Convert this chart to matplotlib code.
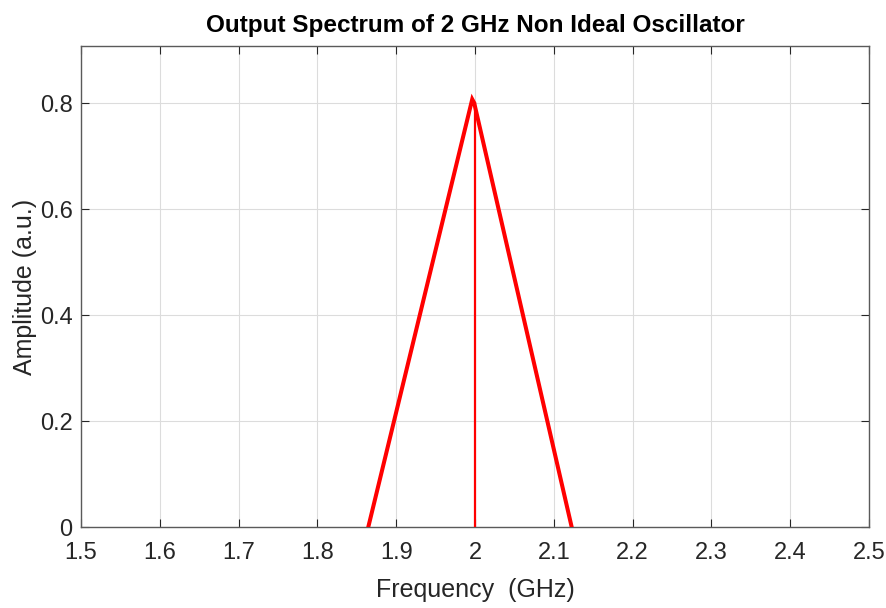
import numpy as np
import matplotlib
matplotlib.use("Agg")
import matplotlib.pyplot as plt

plt.rcParams["font.family"] = ["Liberation Sans", "DejaVu Sans"]

# spectrum trace (GHz, a.u.)
freq_ghz = [1.8646, 1.9965, 1.9990, 2.1227]
amplitude = [0.0, 0.807, 0.800, 0.0]

# carrier line
carrier_f = [2.0, 2.0]
carrier_a = [0.0, 0.80]

xticks = [1.5, 1.6, 1.7, 1.8, 1.9, 2.0, 2.1, 2.2, 2.3, 2.4, 2.5]
xticklabels = ["1.5", "1.6", "1.7", "1.8", "1.9", "2", "2.1", "2.2", "2.3", "2.4", "2.5"]
yticks = [0, 0.2, 0.4, 0.6, 0.8]
yticklabels = ["0", "0.2", "0.4", "0.6", "0.8"]

AX_COL = "#262626"

fig = plt.figure(figsize=(8.87, 6.08), dpi=100)
ax = fig.add_axes([0.0913, 0.1332, 0.8884, 0.7911])

ax.plot(freq_ghz, amplitude, color="red", linewidth=2.9, solid_joinstyle="miter", zorder=3)
ax.plot(carrier_f, carrier_a, color="red", linewidth=1.6, zorder=3)

ax.set_xlim(1.5, 2.5)
ax.set_ylim(0, 0.9075)
ax.set_xticks(xticks)
ax.set_xticklabels(xticklabels)
ax.set_yticks(yticks)
ax.set_yticklabels(yticklabels)

ax.grid(True, color="#dcdcdc", linewidth=0.8)
ax.set_axisbelow(True)
ax.tick_params(direction="in", length=6, width=0.8, top=True, right=True,
               colors=AX_COL, labelsize=17)
ax.tick_params(axis="x", pad=11)
ax.tick_params(axis="y", pad=6)
for tl in ax.get_xticklabels() + ax.get_yticklabels():
    tl.set_color(AX_COL)
for sp in ax.spines.values():
    sp.set_color("#5a5a5a")
    sp.set_linewidth(1.0)

ax.set_xlabel("Frequency  (GHz)", fontsize=18, color=AX_COL, labelpad=10)
ax.set_ylabel("Amplitude (a.u.)", fontsize=18, color=AX_COL, labelpad=2)
ax.set_title("Output Spectrum of 2 GHz Non Ideal Oscillator", fontsize=17.5,
             fontweight="bold", color="black", pad=10)

fig.savefig("out.png", dpi=100, facecolor="white")
